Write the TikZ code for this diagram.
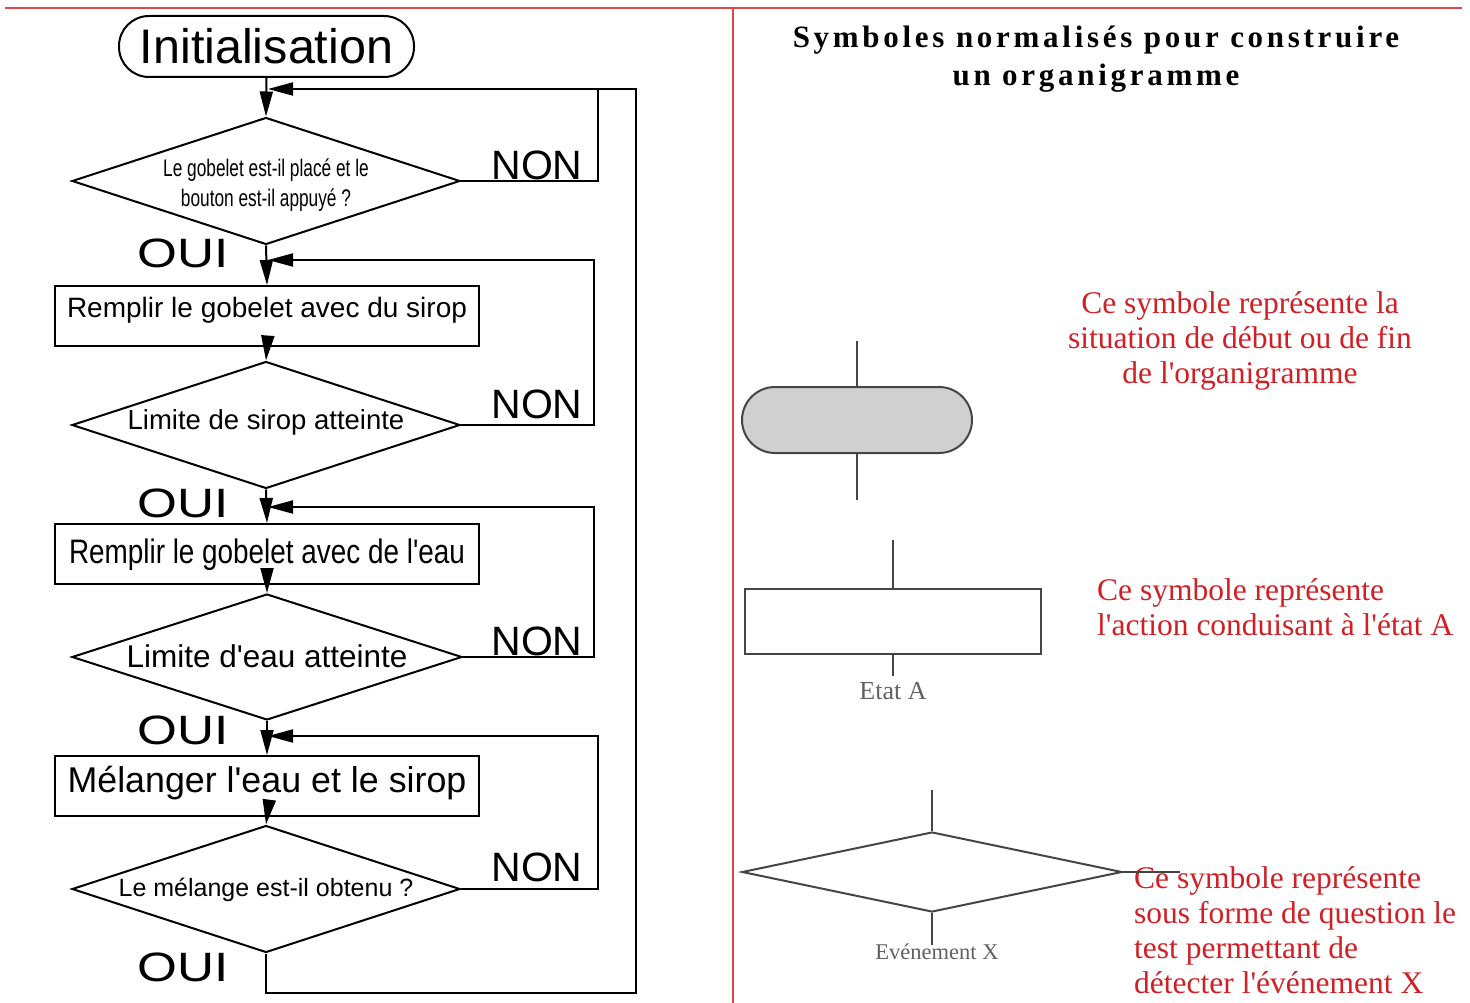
\documentclass[tikz,border=0pt]{standalone}
\usepackage{fontspec}
\usepackage{graphicx}
\newfontfamily\serif{Liberation Serif}
\newfontfamily\arial{Liberation Sans}
\newfontfamily\titlefont[LetterSpace=12]{Liberation Serif}
\usetikzlibrary{shapes.geometric,arrows.meta}
\definecolor{redline}{HTML}{E04848}
\definecolor{redtxt}{HTML}{D01F25}
\definecolor{symgray}{HTML}{454545}
\definecolor{symfill}{HTML}{D0D0D0}
\begin{document}
\begin{tikzpicture}[x=1pt,y=-1pt,
  flow/.style={draw=black,line width=2pt},
  arr/.style={flow,-{Triangle[length=25pt,width=13pt]}},
  procbox/.style={draw=black,line width=2pt,rectangle,minimum width=424pt,minimum height=60pt,inner sep=0pt},
  testbox/.style={draw=black,line width=2pt,diamond,minimum width=388pt,minimum height=127pt,inner sep=0pt},
  yesno/.style={font=\arial\fontsize{41}{41}\selectfont,inner sep=0pt},
  flowtxt/.style={inner sep=0pt,align=center},
  sym/.style={draw=symgray,line width=2pt},
  redlabel/.style={text=redtxt,font=\serif\fontsize{31.5}{35}\selectfont,inner sep=0pt},
  graylabel/.style={text=symgray!85,inner sep=0pt}
]
\useasboundingbox (0,0) rectangle (1470,1003);
% frame lines
\coordinate (fl) at (5,8);
\coordinate (fr) at (1462,8);
\coordinate (vt) at (733,8);
\coordinate (vb) at (733,1003);
\draw[redline,line width=2pt] (fl) -- (fr);
\draw[redline,line width=2pt] (vt) -- (vb);

% ---------- flowchart ----------
\node[draw=black,line width=2pt,rectangle,rounded corners=30pt,minimum width=295pt,minimum height=61pt,inner sep=0pt,
      font=\arial\fontsize{48.5}{48}\selectfont] (init) at (266.5,46.5) {Initialisation};

\node[testbox] (d1) at (266,181) {};
\node[flowtxt,font=\arial\fontsize{24}{30}\selectfont,xscale=0.72,transform shape] (t1) at (266,185) {Le gobelet est-il placé et le\\bouton est-il appuyé ?};

\node[procbox] (b1) at (267,316) {};
\node[flowtxt,font=\arial\fontsize{28}{28}\selectfont] (tb1) at (267,310) {Remplir le gobelet avec du sirop};

\node[testbox] (d2) at (266,425) {};
\node[flowtxt,font=\arial\fontsize{27.5}{28}\selectfont] (t2) at (266,422) {Limite de sirop atteinte};

\node[procbox] (b2) at (267,554) {};
\node[flowtxt,font=\arial\fontsize{34}{34}\selectfont,xscale=0.82,transform shape] (tb2) at (267,555) {Remplir le gobelet avec de l'eau};

\node[testbox,minimum width=390pt,minimum height=126pt] (d3) at (267,657) {};
\node[flowtxt,font=\arial\fontsize{31.5}{32}\selectfont] (t3) at (267,656) {Limite d'eau atteinte};

\node[procbox] (b3) at (267,786) {};
\node[flowtxt,font=\arial\fontsize{35.8}{36}\selectfont] (tb3) at (267,783) {Mélanger l'eau et le sirop};

\node[testbox] (d4) at (266,889) {};
\node[flowtxt,font=\arial\fontsize{25}{25}\selectfont] (t4) at (266,890) {Le mélange est-il obtenu ?};

% NON / OUI labels
\foreach \n/\y in {1/165,2/404,3/641,4/867}{
  \node[yesno] (non\n) at (537,\y) {NON};
}
\foreach \n/\y in {1/253,2/503,3/730,4/967}{
  \node[yesno,xscale=1.25,transform shape] (oui\n) at (183,\y) {OUI};
}

% junction coordinates
\coordinate (j1) at (268,89);
\coordinate (j2) at (268,260);
\coordinate (j3) at (268,507);
\coordinate (j4) at (268,736);
\coordinate (k1) at (598,89);
\coordinate (k2) at (594,260);
\coordinate (k3) at (594,507);
\coordinate (k4) at (598,736);
\coordinate (r1) at (636,993);

% main vertical arrows
\draw[arr] (init.south) -- (d1.north);
\draw[arr] (d1.south) -- (b1.north);
\draw[arr] (b1.south) -- (d2.north);
\draw[arr] (d2.south) -- (b2.north);
\draw[arr] (b2.south) -- (d3.north);
\draw[arr] (d3.south) -- (b3.north);
\draw[arr] (b3.south) -- (d4.north);

% feedback loops
\draw[flow] (d1.east) -| (k1);
\draw[arr] (d2.east) -| (k2) -- (j2);
\draw[arr] (d3.east) -| (k3) -- (j3);
\draw[arr] (d4.east) -| (k4) -- (j4);
\draw[arr] (d4.south) |- (r1) |- (j1);

% ---------- legend ----------
\node[inner sep=0pt,align=center,font=\titlefont\bfseries\fontsize{31}{38}\selectfont] (title) at (1096,59) {Symboles normalisés pour construire\\un organigramme};

% terminal symbol
\node[sym,fill=symfill,rectangle,rounded corners=33pt,minimum width=230pt,minimum height=66pt,inner sep=0pt] (s1) at (857,420) {};
\coordinate (s1t) at (857,341);
\coordinate (s1b) at (857,500);
\draw[sym] (s1t) -- (s1.north);
\draw[sym] (s1.south) -- (s1b);
\node[redlabel,align=center] (l1) at (1240,341) {Ce symbole représente la\\situation de début ou de fin\\de l'organigramme};

% action symbol
\node[sym,rectangle,minimum width=296pt,minimum height=65pt,inner sep=0pt] (s2) at (893,621.5) {};
\coordinate (s2t) at (893,540);
\coordinate (s2b) at (893,676);
\draw[sym] (s2t) -- (s2.north);
\draw[sym] (s2.south) -- (s2b);
\node[graylabel,font=\serif\fontsize{26}{26}\selectfont] (etat) at (893,691) {Etat A};
\node[redlabel,align=left,anchor=west] (l2) at (1097,607.5) {Ce symbole représente\\l'action conduisant à l'état A};

% test symbol
\node[sym,diamond,minimum width=380pt,minimum height=80pt,inner sep=0pt] (s3) at (932,872) {};
\coordinate (s3t) at (932,790);
\coordinate (s3b) at (932,945);
\coordinate (s3r) at (1180,872);
\draw[sym] (s3t) -- (s3.north);
\draw[sym] (s3.south) -- (s3b);
\node[graylabel,font=\serif\fontsize{22.5}{22.5}\selectfont] (evt) at (937,952) {Evénement X};
\node[redlabel,align=left,anchor=west] (l3) at (1134,930.5) {Ce symbole représente\\sous forme de question le\\test permettant de\\détecter l'événement X};
\draw[sym] (s3.east) -- (s3r);
\end{tikzpicture}
\end{document}
